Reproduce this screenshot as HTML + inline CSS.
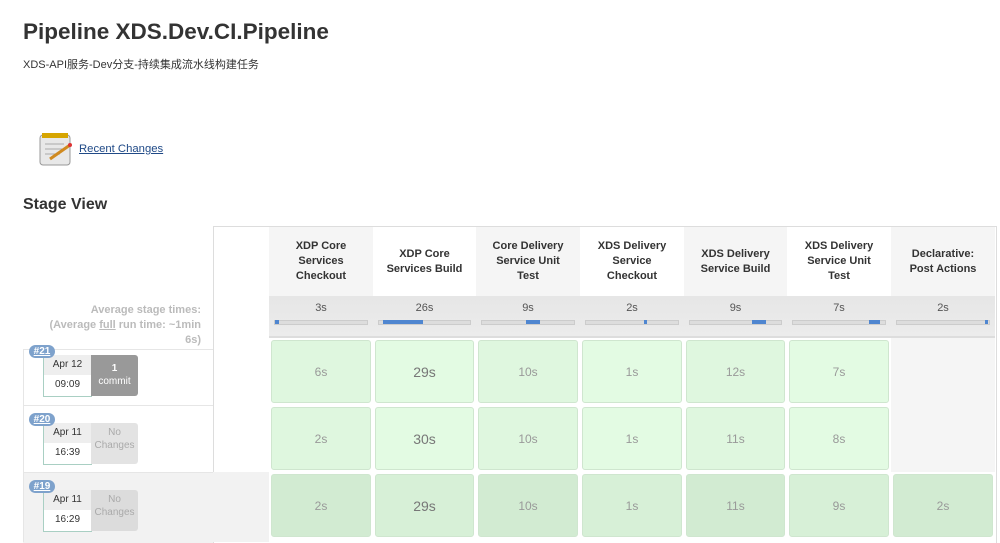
<!DOCTYPE html>
<html><head><meta charset="utf-8"><style>
body{margin:0;width:1000px;height:542px;overflow:hidden;background:#fff;font-family:"Liberation Sans","Noto Sans CJK SC",sans-serif;color:#333;position:relative}
.a{position:absolute}
h1{position:absolute;left:23px;top:19px;margin:0;font-size:22.5px;font-weight:bold;color:#333}
.sub{left:23px;top:56px;font-size:11px;color:#333}
.hd{position:absolute;top:227px;height:69px;font-size:11px;font-weight:bold;display:flex;align-items:center;justify-content:center;text-align:center;line-height:15px;color:#333}
.av{position:absolute;top:296px;height:42px;background:linear-gradient(#e6e6e6,#ececec);font-size:11px;text-align:center;color:#555;border-bottom:2px solid #ddd;box-sizing:border-box}
.bar{position:absolute;left:5px;right:5px;top:24px;height:3px;background:#ddd;border:1px solid #ccc}
.bf{position:absolute;top:-1px;height:4px;background:#4f86d0}
.c{position:absolute;height:63px;border-radius:3px;border:1px solid #cfe6cf;box-sizing:border-box;display:flex;align-items:center;justify-content:center;font-size:12px;color:#999}
.badge{position:absolute;left:29px;width:26px;height:13px;border-radius:7px;background:#7ea2cc;color:#fff;font-size:10px;font-weight:bold;text-align:center;line-height:13px;text-decoration:underline}
.dt{position:absolute;left:43px;width:47px;height:41px;border:1px solid #a9cfc3;border-top:none;background:#fff;font-size:10px;text-align:center;color:#333}
.dt div{height:20px;line-height:20px}
.dt div:first-child{background:#eee}
.ch{position:absolute;left:91px;width:47px;height:41px;border-radius:0 3px 3px 0;font-size:10px;text-align:center;line-height:13px;padding-top:7px;box-sizing:border-box}
</style></head><body>
<h1>Pipeline XDS.Dev.CI.Pipeline</h1>
<div class="a sub">XDS-API服务-Dev分支-持续集成流水线构建任务</div>
<svg class="a" style="left:38px;top:131px" width="36" height="36"><rect x="2" y="4" width="30" height="30" rx="3" fill="#e8e8e8" stroke="#999"/><rect x="4" y="2" width="26" height="5" fill="#d6a500"/><line x1="7" y1="13" x2="26" y2="13" stroke="#aaa"/><line x1="7" y1="18" x2="24" y2="18" stroke="#aaa"/><line x1="7" y1="23" x2="22" y2="23" stroke="#aaa"/><line x1="12" y1="28" x2="32" y2="14" stroke="#d08a20" stroke-width="3"/><circle cx="32" cy="14" r="2" fill="#d33"/></svg>
<div class="a" style="left:79px;top:143px;font-size:11.3px;color:#204a87;text-decoration:underline">Recent Changes</div>
<div class="a" style="left:23px;top:196px;font-size:16px;font-weight:bold;color:#333">Stage View</div>

<div class="a" style="left:213px;top:226px;width:782px;height:316px;border-left:1px solid #ddd;border-top:1px solid #ddd;border-right:1px solid #ddd"></div>
<div class="a" style="left:213px;top:472px;width:56px;height:70px;background:#f2f2f2"></div>

<div class="hd" style="left:269px;width:104px;background:#f5f5f5">XDP Core<br>Services<br>Checkout</div>
<div class="hd" style="left:373px;width:103px;background:#fff">XDP Core<br>Services Build</div>
<div class="hd" style="left:476px;width:104px;background:#f5f5f5">Core Delivery<br>Service Unit<br>Test</div>
<div class="hd" style="left:580px;width:104px;background:#fff">XDS Delivery<br>Service<br>Checkout</div>
<div class="hd" style="left:684px;width:103px;background:#f5f5f5">XDS Delivery<br>Service Build</div>
<div class="hd" style="left:787px;width:104px;background:#fff">XDS Delivery<br>Service Unit<br>Test</div>
<div class="hd" style="left:891px;width:104px;background:#f5f5f5">Declarative:<br>Post Actions</div>

<div class="av" style="left:269px;width:104px;padding-top:6px">3s<div class="bar"><div class="bf" style="left:0;width:4px"></div></div></div>
<div class="av" style="left:373px;width:103px;padding-top:6px">26s<div class="bar"><div class="bf" style="left:4px;width:40px"></div></div></div>
<div class="av" style="left:476px;width:104px;padding-top:6px">9s<div class="bar"><div class="bf" style="left:44px;width:14px"></div></div></div>
<div class="av" style="left:580px;width:104px;padding-top:6px">2s<div class="bar"><div class="bf" style="left:58px;width:3px"></div></div></div>
<div class="av" style="left:684px;width:103px;padding-top:6px">9s<div class="bar"><div class="bf" style="left:62px;width:14px"></div></div></div>
<div class="av" style="left:787px;width:104px;padding-top:6px">7s<div class="bar"><div class="bf" style="left:76px;width:11px"></div></div></div>
<div class="av" style="left:891px;width:104px;padding-top:6px">2s<div class="bar"><div class="bf" style="left:88px;width:3px"></div></div></div>

<div class="a" style="left:23px;top:303px;width:178px;text-align:right;font-size:11px;font-weight:bold;color:#bbb;line-height:15px">Average stage times:<br>(Average <u>full</u> run time: ~1min<br>6s)</div>

<div class="a" style="left:23px;top:349px;width:190px;height:193px;border-top:1px solid #e6e6e6"></div>
<div class="a" style="left:23px;top:405px;width:190px;border-top:1px solid #e6e6e6"></div>
<div class="a" style="left:23px;top:472px;width:190px;height:70px;background:#f2f2f2;border-top:1px solid #e6e6e6"></div>
<div class="a" style="left:23px;top:349px;height:193px;border-left:1px solid #e6e6e6"></div>

<div class="dt" style="top:355px"><div>Apr 12</div><div>09:09</div></div>
<div class="ch" style="top:355px;background:#999;color:#fff;font-weight:bold">1<br><span style="font-weight:normal">commit</span></div>
<div class="badge" style="top:345px">#21</div>
<div class="dt" style="top:423px"><div>Apr 11</div><div>16:39</div></div>
<div class="ch" style="top:423px;background:#e3e3e3;color:#aaa;padding-top:3px">No<br>Changes</div>
<div class="badge" style="top:413px">#20</div>
<div class="dt" style="top:490px"><div>Apr 11</div><div>16:29</div></div>
<div class="ch" style="top:490px;background:#dcdcdc;color:#aaa;padding-top:3px">No<br>Changes</div>
<div class="badge" style="top:480px">#19</div>

<div class="a" style="left:891px;top:338px;width:104px;height:134px;background:#f5f5f5"></div>

<div class="c" style="left:271px;top:340px;width:100px;background:#dff7df">6s</div>
<div class="c" style="left:375px;top:340px;width:99px;background:#e3fbe3;font-size:14px;color:#777">29s</div>
<div class="c" style="left:478px;top:340px;width:100px;background:#dff7df">10s</div>
<div class="c" style="left:582px;top:340px;width:100px;background:#e3fbe3">1s</div>
<div class="c" style="left:686px;top:340px;width:99px;background:#dff7df">12s</div>
<div class="c" style="left:789px;top:340px;width:100px;background:#e3fbe3">7s</div>
<div class="c" style="left:271px;top:407px;width:100px;background:#dff7df">2s</div>
<div class="c" style="left:375px;top:407px;width:99px;background:#e3fbe3;font-size:14px;color:#777">30s</div>
<div class="c" style="left:478px;top:407px;width:100px;background:#dff7df">10s</div>
<div class="c" style="left:582px;top:407px;width:100px;background:#e3fbe3">1s</div>
<div class="c" style="left:686px;top:407px;width:99px;background:#dff7df">11s</div>
<div class="c" style="left:789px;top:407px;width:100px;background:#e3fbe3">8s</div>
<div class="c" style="left:271px;top:474px;width:100px;background:#d2ebd2">2s</div>
<div class="c" style="left:375px;top:474px;width:99px;background:#d7f0d7;font-size:14px;color:#777">29s</div>
<div class="c" style="left:478px;top:474px;width:100px;background:#d2ebd2">10s</div>
<div class="c" style="left:582px;top:474px;width:100px;background:#d7f0d7">1s</div>
<div class="c" style="left:686px;top:474px;width:99px;background:#d2ebd2">11s</div>
<div class="c" style="left:789px;top:474px;width:100px;background:#d7f0d7">9s</div>
<div class="c" style="left:893px;top:474px;width:100px;background:#d2ebd2">2s</div>
</body></html>
